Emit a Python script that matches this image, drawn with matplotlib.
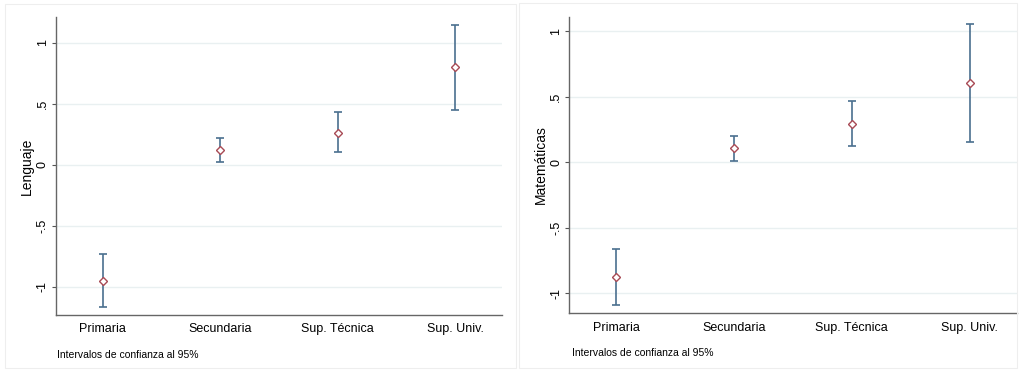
import matplotlib.pyplot as plt
from matplotlib.patches import Rectangle

plt.rcParams['font.family'] = ['Liberation Sans', 'DejaVu Sans']

categorias = ['Primaria', 'Secundaria', 'Sup. Técnica', 'Sup. Univ.']

leng_media = [-0.953, 0.120, 0.262, 0.798]
leng_inf = [-1.166, 0.022, 0.100, 0.451]
leng_sup = [-0.734, 0.219, 0.429, 1.145]

mate_media = [-0.878, 0.104, 0.292, 0.600]
mate_inf = [-1.094, 0.008, 0.122, 0.150]
mate_sup = [-0.662, 0.201, 0.468, 1.051]

yticks = [-1, -0.5, 0, 0.5, 1]
ytick_labels = ['-1', '-.5', '0', '.5', '1']
nota = 'Intervalos de confianza al 95%'

bar_color = '#4a6f8f'
mark_color = '#a84a55'
grid_color = '#e9f0f1'

fig = plt.figure(figsize=(10.19, 3.72), dpi=100)

# faint panel frames
fig.patches.append(Rectangle((5/1019, 4/372), 511/1019, 364/372, transform=fig.transFigure,
                             fill=False, edgecolor='#eeeeee', lw=0.8))
fig.patches.append(Rectangle((519/1019, 4/372), 498/1019, 365/372, transform=fig.transFigure,
                             fill=False, edgecolor='#eeeeee', lw=0.8))

paneles = [
    ([0.0547, 0.1532, 0.438, 0.801], leng_media, leng_inf, leng_sup, 'Lenguaje', (-1.232, 1.21), (57/1019, 1 - 355/372)),
    ([0.5587, 0.1578, 0.439, 0.797], mate_media, mate_inf, mate_sup, 'Matemáticas', (-1.155, 1.109), (572/1019, 1 - 353/372)),
]

xs = list(range(1, len(categorias) + 1))
for pos, media, inf, sup, ylab, ylim, notapos in paneles:
    ax = fig.add_axes(pos)
    err = [[m - l for m, l in zip(media, inf)], [s - m for m, s in zip(media, sup)]]
    ax.errorbar(xs, media, yerr=err, fmt='none', ecolor=bar_color, elinewidth=1.2,
                capsize=2.6, capthick=1.2, zorder=2)
    ax.plot(xs, media, linestyle='none', marker='D', markersize=3.6, markerfacecolor='white',
            markeredgecolor=mark_color, markeredgewidth=1.0, zorder=3)
    ax.set_xlim(0.6, 4.4)
    ax.set_ylim(*ylim)
    ax.set_yticks(yticks)
    ax.set_yticklabels(ytick_labels, rotation=90, va='center', fontsize=9)
    ax.set_xticks(xs)
    ax.set_xticklabels(categorias, fontsize=9)
    ax.tick_params(axis='x', length=0, pad=6)
    ax.tick_params(axis='y', length=3, width=0.8, color='#555555', pad=2)
    ax.set_ylabel(ylab, fontsize=10)
    ax.yaxis.set_label_coords(-0.064, 0.5)
    ax.yaxis.label.set_verticalalignment('center')
    ax.grid(axis='y', color=grid_color, lw=1.0)
    ax.set_axisbelow(True)
    for s in ['top', 'right']:
        ax.spines[s].set_visible(False)
    for s in ['left', 'bottom']:
        ax.spines[s].set_color('#666666')
        ax.spines[s].set_linewidth(1.0)
    fig.text(notapos[0], notapos[1], nota, fontsize=7.5, va='center', ha='left')

fig.savefig('out.png', dpi=100, facecolor='white')
